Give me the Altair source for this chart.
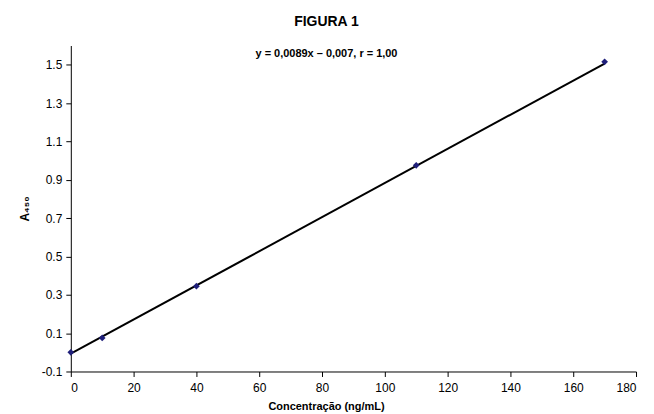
import altair as alt
import pandas as pd

conc = [0, 10, 40, 110, 170]
absorb = [0.0, 0.075, 0.345, 0.975, 1.515]
slope = 0.0089
intercept = -0.007
line_x = [0, 170]
x_ticks = [0, 20, 40, 60, 80, 100, 120, 140, 160, 180]
y_ticks = [-0.1, 0.1, 0.3, 0.5, 0.7, 0.9, 1.1, 1.3, 1.5]

pts = pd.DataFrame({"x": conc, "y": absorb})
fit = pd.DataFrame({"x": line_x, "y": [slope * v + intercept for v in line_x]})

font = "Liberation Sans"
xs = alt.Scale(domain=[0, 180], nice=False, zero=False)
ys = alt.Scale(domain=[-0.1, 1.6], nice=False, zero=False)

xaxis = alt.Axis(values=x_ticks, title="Concentração (ng/mL)", grid=False,
                 labelFont=font, labelFontSize=12, labelColor="black",
                 titleFont=font, titleFontSize=11, titleFontWeight="bold", titleColor="black",
                 domainColor="black", tickColor="black", tickSize=5, labelPadding=6, titlePadding=7,
                 titleX=256)
yaxis = alt.Axis(values=y_ticks, title="A₄₅₀", grid=False,
                 labelExpr="datum.value < 0 ? '-' + format(-datum.value, '.1f') : format(datum.value, '.1f')",
                 labelFont=font, labelFontSize=12, labelColor="black",
                 titleFont=font, titleFontSize=12, titleFontWeight="bold", titleColor="black",
                 domainColor="black", tickColor="black", tickSize=5, labelPadding=4, titlePadding=10)

line = alt.Chart(fit).mark_line(color="black", strokeWidth=2).encode(
    x=alt.X("x:Q", scale=xs, axis=xaxis),
    y=alt.Y("y:Q", scale=ys, axis=yaxis),
)
points = alt.Chart(pts).mark_point(shape="diamond", filled=True, color="#1F1F7A", size=45, opacity=1).encode(
    x=alt.X("x:Q", scale=xs),
    y=alt.Y("y:Q", scale=ys),
)

chart = alt.layer(line, points).properties(
    width=567, height=327,
    autosize=alt.AutoSizeParams(type="none"),
    padding={"left": 63, "top": 37, "right": 10, "bottom": 40},
    title=alt.TitleParams(
        text="FIGURA 1", subtitle="y = 0,0089x – 0,007, r = 1,00",
        font=font, fontSize=14, fontWeight="bold", color="black",
        subtitleFont=font, subtitleFontSize=11, subtitleFontWeight="bold", subtitleColor="black",
        subtitlePadding=20, offset=-14, anchor="middle", dx=-27,
    ),
).configure_view(stroke=None)

chart.save("out.html", embed_options={"renderer": "svg", "actions": False})
